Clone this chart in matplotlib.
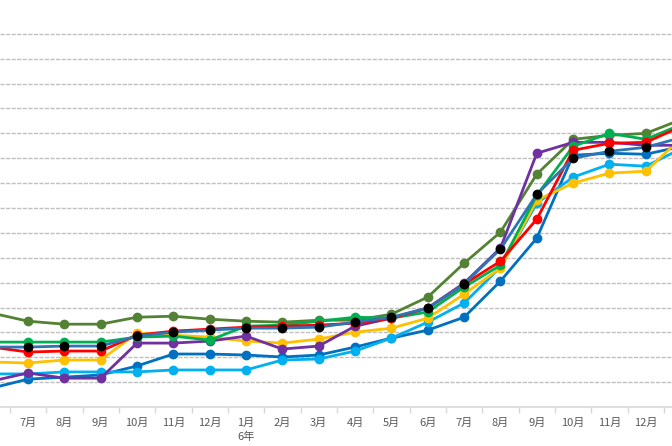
import numpy as np
import matplotlib.pyplot as plt

plt.rcParams['font.family'] = ['Noto Sans CJK JP', 'DejaVu Sans']

# months from 6月 (off the left edge) to 1月 (off the right edge)
months = ['6月', '7月', '8月', '9月', '10月', '11月', '12月', '1月', '2月', '3月',
          '4月', '5月', '6月', '7月', '8月', '9月', '10月', '11月', '12月', '1月']
year_label = '6年'  # shown under the first 1月

olive = [3.78, 3.45, 3.33, 3.33, 3.61, 3.65, 3.53, 3.45, 3.41, 3.49,
         3.49, 3.73, 4.42, 5.78, 7.03, 9.36, 10.76, 10.92, 11.00, 11.57]
dark_blue = [0.76, 1.12, 1.20, 1.29, 1.65, 2.13, 2.13, 2.09, 2.01, 2.09,
             2.41, 2.77, 3.09, 3.61, 5.06, 6.79, 10.12, 10.20, 10.16, 10.48]
light_blue = [1.33, 1.33, 1.41, 1.41, 1.41, 1.49, 1.49, 1.49, 1.89, 1.93,
              2.25, 2.77, 3.41, 4.18, 5.62, 8.19, 9.24, 9.76, 9.68, 10.40]
yellow = [1.81, 1.77, 1.89, 1.89, 2.97, 2.89, 2.81, 2.65, 2.57, 2.73,
          3.01, 3.17, 3.57, 4.54, 5.58, 8.31, 9.00, 9.40, 9.48, 10.84]
purple = [1.04, 1.37, 1.16, 1.16, 2.57, 2.57, 2.65, 2.85, 2.33, 2.45,
          3.25, 3.57, 3.98, 4.98, 6.39, 10.20, 10.64, 10.64, 10.52, 10.52]
green = [2.61, 2.61, 2.61, 2.61, 2.81, 2.85, 2.69, 3.25, 3.29, 3.45,
         3.61, 3.57, 3.82, 4.82, 5.70, 8.51, 10.48, 11.00, 10.76, 11.37]
red = [2.41, 2.21, 2.25, 2.25, 2.89, 3.05, 3.13, 3.21, 3.25, 3.29,
       3.37, 3.57, 3.98, 4.94, 5.86, 7.55, 10.32, 10.60, 10.64, 11.29]
black = [2.41, 2.41, 2.45, 2.45, 2.85, 3.01, 3.09, 3.17, 3.17, 3.21,
         3.41, 3.61, 3.98, 4.94, 6.35, 8.55, 10.00, 10.28, 10.44, 10.84]

series = [
    (olive, '#548235', '#548235'),
    (dark_blue, '#0070C0', '#0070C0'),
    (light_blue, '#00B0F0', '#00B0F0'),
    (yellow, '#FFC000', '#FFC000'),
    (purple, '#7030A0', '#7030A0'),
    (green, '#00B050', '#00B050'),
    (red, '#FF0000', '#FF0000'),
    (black, '#2E75B6', '#000000'),
]

x = np.arange(len(months)) - 1

fig = plt.figure(figsize=(6.72, 4.46), dpi=100)
ax = fig.add_axes([0, 0.0874, 1, 0.8925])

for vals, lc, mc in series:
    ax.plot(x, vals, color=lc, lw=2.0, marker='o', ms=6,
            markerfacecolor=mc, markeredgecolor=mc, zorder=3)

ax.set_yticks(np.arange(1, 16))
ax.yaxis.grid(True, color='#c0c0c0', lw=1.0, linestyle=(0, (3, 1)))
ax.tick_params(axis='y', left=False, labelleft=False)

ax.set_xticks(x)
ax.set_xticklabels(months, fontsize=8, color='#595959')
ax.set_xticks(np.arange(-1.5, 19, 1), minor=True)
ax.tick_params(axis='x', which='major', length=0, pad=8)
ax.tick_params(axis='x', which='minor', length=4, color='#d9d9d9', width=1)

# the chart is a cropped view: set limits after ticks so they stick
ax.set_xlim(-0.77, 17.72)
ax.set_ylim(0, 16)

for side in ['top', 'left', 'right']:
    ax.spines[side].set_visible(False)
ax.spines['bottom'].set_color('#d9d9d9')
ax.spines['bottom'].set_linewidth(1.2)

ax.text(6, -0.063, year_label, transform=ax.get_xaxis_transform(),
        ha='center', va='top', fontsize=8, color='#595959')

fig.savefig('out.png', dpi=100)
